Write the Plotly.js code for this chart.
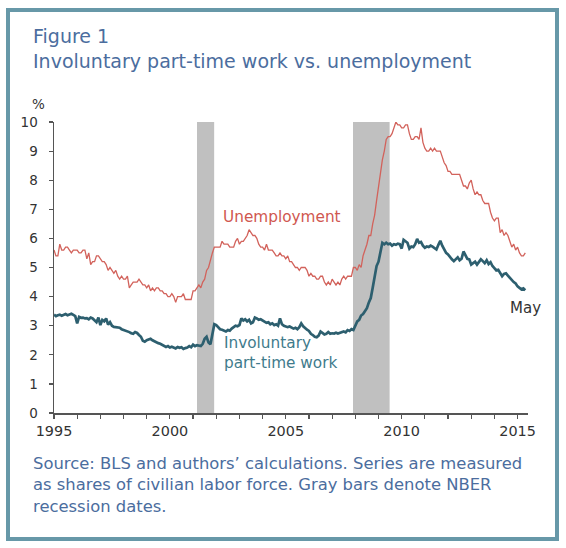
<!DOCTYPE html>
<html>
<head>
<meta charset="utf-8">
<script src="https://cdn.plot.ly/plotly-3.0.1.min.js"></script>
<style>
  html, body { margin: 0; padding: 0; background: #ffffff; }
  #wrap { position: relative; width: 566px; height: 548px; }
  #chart { position: absolute; left: 0; top: 0; width: 566px; height: 548px; }
  #frame { position: absolute; left: 6px; top: 8px; width: 553px; height: 533px;
           box-sizing: border-box; border: 4.4px solid #6798a8; pointer-events: none; }
</style>
</head>
<body>
<div id="wrap">
  <div id="chart"></div>
  <div id="frame"></div>
</div>
<script>
// ---- Data (monthly, January 1995 to May 2015) ----
const startYear = 1995;

// Unemployment rate, %
const unemployment = [
  5.6, 5.4, 5.4, 5.8, 5.6, 5.6, 5.7, 5.7, 5.6, 5.5, 5.6, 5.6,   // 1995
  5.6, 5.5, 5.5, 5.6, 5.6, 5.3, 5.5, 5.1, 5.2, 5.2, 5.4, 5.4,   // 1996
  5.3, 5.2, 5.2, 5.1, 4.9, 5.0, 4.9, 4.8, 4.9, 4.7, 4.6, 4.7,   // 1997
  4.6, 4.6, 4.7, 4.3, 4.4, 4.5, 4.5, 4.5, 4.6, 4.5, 4.4, 4.4,   // 1998
  4.3, 4.4, 4.2, 4.3, 4.2, 4.3, 4.3, 4.2, 4.2, 4.1, 4.1, 4.0,   // 1999
  4.0, 4.1, 4.0, 3.8, 4.0, 4.0, 4.0, 4.1, 3.9, 3.9, 3.9, 3.9,   // 2000
  4.2, 4.2, 4.3, 4.4, 4.3, 4.5, 4.6, 4.9, 5.0, 5.3, 5.5, 5.7,   // 2001
  5.7, 5.7, 5.7, 5.9, 5.8, 5.8, 5.8, 5.7, 5.7, 5.7, 5.9, 6.0,   // 2002
  5.8, 5.9, 5.9, 6.0, 6.1, 6.3, 6.2, 6.1, 6.1, 6.0, 5.8, 5.7,   // 2003
  5.7, 5.6, 5.8, 5.6, 5.6, 5.6, 5.5, 5.4, 5.4, 5.5, 5.4, 5.4,   // 2004
  5.3, 5.4, 5.2, 5.2, 5.1, 5.0, 5.0, 4.9, 5.0, 5.0, 5.0, 4.9,   // 2005
  4.7, 4.8, 4.7, 4.7, 4.6, 4.6, 4.7, 4.7, 4.5, 4.4, 4.5, 4.4,   // 2006
  4.6, 4.5, 4.4, 4.5, 4.4, 4.6, 4.7, 4.6, 4.7, 4.7, 4.7, 5.0,   // 2007
  5.0, 4.9, 5.1, 5.0, 5.4, 5.6, 5.8, 6.1, 6.1, 6.5, 6.8, 7.3,   // 2008
  7.8, 8.3, 8.7, 9.0, 9.4, 9.5, 9.5, 9.6, 9.8, 10.0, 9.9, 9.9,  // 2009
  9.8, 9.8, 9.9, 9.9, 9.6, 9.4, 9.4, 9.5, 9.5, 9.4, 9.8, 9.3,   // 2010
  9.1, 9.0, 9.0, 9.1, 9.0, 9.1, 9.0, 9.0, 9.0, 8.8, 8.6, 8.5,   // 2011
  8.3, 8.3, 8.2, 8.2, 8.2, 8.2, 8.2, 8.0, 7.8, 7.8, 7.7, 7.9,   // 2012
  8.0, 7.7, 7.5, 7.6, 7.5, 7.5, 7.3, 7.2, 7.2, 7.2, 6.9, 6.7,   // 2013
  6.6, 6.7, 6.7, 6.2, 6.3, 6.1, 6.2, 6.1, 5.9, 5.7, 5.8, 5.6,   // 2014
  5.7, 5.5, 5.4, 5.4, 5.5                                       // 2015
];

// Involuntary part-time work, % of civilian labor force
const involuntaryPartTime = [
  3.38, 3.33, 3.36, 3.38, 3.34, 3.37, 3.40, 3.36, 3.38, 3.41, 3.37, 3.33, // 1995
  3.08, 3.30, 3.27, 3.28, 3.25, 3.26, 3.22, 3.28, 3.25, 3.18, 3.12, 3.28, // 1996
  3.02, 3.20, 3.15, 3.25, 3.04, 3.12, 3.00, 2.96, 2.95, 2.92, 2.93, 2.88, // 1997
  2.86, 2.83, 2.80, 2.78, 2.74, 2.72, 2.78, 2.75, 2.68, 2.62, 2.48, 2.45, // 1998
  2.50, 2.52, 2.55, 2.50, 2.46, 2.44, 2.40, 2.38, 2.34, 2.30, 2.27, 2.30, // 1999
  2.25, 2.28, 2.24, 2.22, 2.27, 2.24, 2.26, 2.20, 2.23, 2.25, 2.30, 2.26, // 2000
  2.35, 2.30, 2.33, 2.31, 2.30, 2.38, 2.55, 2.62, 2.42, 2.36, 2.75, 3.05, // 2001
  3.02, 2.95, 2.88, 2.86, 2.82, 2.80, 2.85, 2.83, 2.90, 2.95, 3.00, 2.98, // 2002
  3.02, 3.25, 3.18, 3.22, 3.15, 3.20, 3.08, 3.12, 3.28, 3.25, 3.20, 3.22, // 2003
  3.18, 3.15, 3.10, 3.12, 3.05, 3.08, 3.02, 3.05, 3.00, 3.25, 3.05, 3.00, // 2004
  2.98, 2.95, 2.97, 2.92, 2.90, 2.93, 2.88, 2.95, 3.08, 2.98, 2.90, 2.86, // 2005
  2.82, 2.72, 2.68, 2.62, 2.60, 2.66, 2.80, 2.75, 2.70, 2.72, 2.78, 2.72, // 2006
  2.74, 2.73, 2.76, 2.73, 2.75, 2.78, 2.80, 2.77, 2.85, 2.82, 2.88, 2.85, // 2007
  3.00, 3.15, 3.20, 3.35, 3.40, 3.50, 3.60, 3.80, 3.95, 4.30, 4.70, 5.05, // 2008
  5.20, 5.60, 5.85, 5.80, 5.85, 5.80, 5.82, 5.75, 5.80, 5.78, 5.82, 5.80, // 2009
  5.65, 5.95, 5.90, 5.85, 5.65, 5.72, 5.70, 5.80, 5.98, 5.85, 5.88, 5.75, // 2010
  5.68, 5.72, 5.70, 5.75, 5.72, 5.68, 5.62, 5.78, 5.92, 5.75, 5.60, 5.50, // 2011
  5.45, 5.35, 5.28, 5.22, 5.30, 5.35, 5.25, 5.30, 5.55, 5.40, 5.30, 5.28, // 2012
  5.10, 5.15, 5.20, 5.10, 5.20, 5.28, 5.22, 5.15, 5.25, 5.12, 5.18, 5.05, // 2013
  4.98, 4.90, 4.92, 4.80, 4.70, 4.78, 4.80, 4.72, 4.65, 4.55, 4.50, 4.45, // 2014
  4.35, 4.30, 4.25, 4.28, 4.22                                            // 2015
];

// NBER recessions (decimal years)
const recessionStart = [2001.17, 2007.90];
const recessionEnd   = [2001.91, 2009.48];

const xTickValues = [1995, 2000, 2005, 2010, 2015];
const xTickLabels = ['1995', '2000', '2005', '2010', '2015'];

// month positions as decimal years
const months = unemployment.map((_, i) => startYear + i / 12);

const titleColor = '#4b6d9e';
const fontFam = '"DejaVu Sans", Verdana, sans-serif';

const traces = [
  {
    x: months, y: unemployment, type: 'scatter', mode: 'lines',
    line: { color: '#d2625b', width: 1.3 }, cliponaxis: false,
    name: 'Unemployment', hoverinfo: 'skip'
  },
  {
    x: months, y: involuntaryPartTime, type: 'scatter', mode: 'lines',
    line: { color: '#2d5f6f', width: 2.7 }, cliponaxis: false,
    name: 'Involuntary part-time work', hoverinfo: 'skip'
  }
];

const shapes = recessionStart.map((s, i) => ({
  type: 'rect', xref: 'x', yref: 'y', x0: s, x1: recessionEnd[i], y0: 0, y1: 10,
  fillcolor: '#c0c0c0', line: { width: 0 }, layer: 'below'
}));

const layout = {
  width: 566, height: 548,
  margin: { l: 54, r: 38, t: 122, b: 135, pad: 0 },
  paper_bgcolor: '#ffffff', plot_bgcolor: '#ffffff',
  showlegend: false,
  font: { family: fontFam, color: '#333333' },
  xaxis: {
    range: [1995, 2015.45], tickmode: 'array', tickvals: xTickValues, ticktext: xTickLabels,
    ticks: 'outside', ticklen: 4, tickwidth: 1.2, tickcolor: '#555555',
    showline: true, linecolor: '#555555', linewidth: 1.5,
    showgrid: false, zeroline: false,
    tickfont: { family: fontFam, size: 14.4, color: '#333333' },
    minor: { dtick: 1, tick0: 1995, ticks: 'outside', ticklen: 4, tickwidth: 1.2, tickcolor: '#555555', showgrid: false }
  },
  yaxis: {
    range: [0, 10], dtick: 1, tick0: 0,
    ticks: 'outside', ticklen: 4, tickwidth: 1.2, tickcolor: '#555555',
    showline: true, linecolor: '#555555', linewidth: 1.5,
    showgrid: false, zeroline: false, ticklabelstandoff: 8,
    tickfont: { family: fontFam, size: 13.5, color: '#333333' }
  },
  shapes: shapes,
  annotations: [
    { text: 'Figure 1', xref: 'paper', yref: 'paper', x: (30.5 - 54) / 474, y: (413 - 36) / 291,
      xanchor: 'left', yanchor: 'middle', showarrow: false,
      font: { family: fontFam, size: 19, color: titleColor } },
    { text: 'Involuntary part-time work vs. unemployment', xref: 'paper', yref: 'paper',
      x: (30.5 - 54) / 474, y: (413 - 61) / 291,
      xanchor: 'left', yanchor: 'middle', showarrow: false,
      font: { family: fontFam, size: 19, color: titleColor } },
    { text: '%', xref: 'x', yref: 'y', x: 1995, y: 10, xshift: -15.5, yshift: 18.5,
      xanchor: 'center', yanchor: 'middle', showarrow: false,
      font: { family: fontFam, size: 13.5, color: '#333333' } },
    { text: 'Unemployment', xref: 'x', yref: 'y', x: 2002.2, y: 6.74,
      xanchor: 'left', yanchor: 'middle', showarrow: false,
      font: { family: fontFam, size: 15.3, color: '#d0574f' } },
    { text: 'Involuntary<br>part-time work', xref: 'x', yref: 'y', x: 2002.25, y: 2.05,
      xanchor: 'left', yanchor: 'middle', align: 'left', showarrow: false,
      font: { family: fontFam, size: 15.3, color: '#3f7b8c' } },
    { text: 'May', xref: 'x', yref: 'y', x: 2015.35, y: 3.6,
      xanchor: 'center', yanchor: 'middle', showarrow: false,
      font: { family: fontFam, size: 15, color: '#333333' } },
    { text: 'Source: BLS and authors\u2019 calculations. Series are measured<br>as shares of civilian labor force. Gray bars denote NBER<br>recession dates.',
      xref: 'paper', yref: 'paper', x: (30.5 - 54) / 474, y: (413 - 484.5) / 291,
      xanchor: 'left', yanchor: 'middle', align: 'left', showarrow: false,
      font: { family: fontFam, size: 16.4, color: titleColor } }
  ]
};

Plotly.newPlot('chart', traces, layout, { staticPlot: true, displayModeBar: false });
</script>
</body>
</html>
